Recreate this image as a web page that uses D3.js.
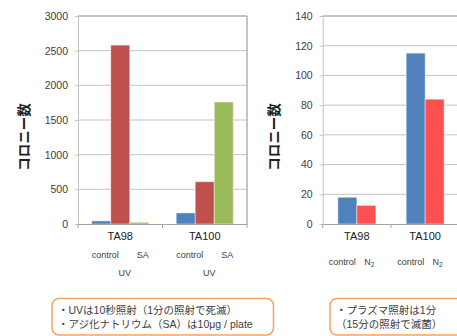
<!DOCTYPE html>
<html>
<head>
<meta charset="utf-8">
<script src="https://cdn.jsdelivr.net/npm/d3@7"></script>
<style>
  body { margin: 0; background: #fff; }
  svg { display: block; font-family: "Liberation Sans", Arial, "Noto Sans CJK JP", sans-serif; }
</style>
</head>
<body>
<svg width="457" height="336"></svg>
<script>
// data
var strains = ["TA98", "TA100"];

var uvSeries = ["control", "UV", "SA"];
var uvValues = [[45, 2580, 25], [160, 610, 1760]];
var uvColors = ["#4F81BD", "#C0504D", "#9BBB59"];
var uvTicks = [0, 500, 1000, 1500, 2000, 2500, 3000];

var plSeries = ["control", "N2"];
var plValues = [[18, 12.5], [115, 84]];
var plColors = ["#4F81BD", "#FF5050"];
var plTicks = [0, 20, 40, 60, 80, 100, 120, 140];

var yTitle = "コロニー数";
var noteLeft = ["・UVは10秒照射（1分の照射で死滅）", "・アジ化ナトリウム（SA）は10μg / plate"];
var noteRight = ["・プラズマ照射は1分", "（15分の照射で滅菌）"];

var svg = d3.select("svg");
var CJK = "'Noto Sans CJK JP', sans-serif";

function drawChart(opt) {
  var x = d3.scaleBand().domain(strains).range([opt.x0, opt.x1]);
  var xs = d3.scaleBand().domain(opt.series).range([0, x.bandwidth()]).paddingOuter(opt.pad);
  var y = d3.scaleLinear().domain([0, opt.max]).range([224, 16]);
  var g = svg.append("g");

  // gridlines
  g.selectAll(".grid").data(opt.ticks.slice(1, -1)).enter().append("line")
    .attr("x1", opt.x0).attr("x2", opt.x1)
    .attr("y1", function(d) { return y(d); }).attr("y2", function(d) { return y(d); })
    .attr("stroke", "#c4c4c4").attr("stroke-width", 1);

  // frame top/right
  g.append("line").attr("x1", opt.x0).attr("x2", opt.x1).attr("y1", y(opt.max)).attr("y2", y(opt.max))
    .attr("stroke", "#8a8a8a");
  g.append("line").attr("x1", opt.x1).attr("x2", opt.x1).attr("y1", y(opt.max)).attr("y2", y(0))
    .attr("stroke", "#8a8a8a");

  // bars
  var groups = g.selectAll(".strain").data(opt.values).enter().append("g")
    .attr("transform", function(d, i) { return "translate(" + x(strains[i]) + ",0)"; });
  groups.selectAll("rect").data(function(d) { return d; }).enter().append("rect")
    .attr("x", function(d, i) { return xs(opt.series[i]); })
    .attr("width", xs.bandwidth())
    .attr("y", function(d) { return y(d); })
    .attr("height", function(d) { return y(0) - y(d); })
    .attr("fill", function(d, i) { return opt.colors[i]; })
    .attr("stroke", "rgba(255,255,255,0.45)").attr("stroke-width", 1);

  // y axis
  var ya = g.append("g").attr("transform", "translate(" + opt.x0 + ",0)")
    .call(d3.axisLeft(y).tickValues(opt.ticks).tickFormat(d3.format("d")).tickSize(3).tickPadding(7));
  ya.select(".domain").attr("stroke", "#c4c4c4");
  ya.selectAll(".tick line").attr("stroke", "#c4c4c4");
  ya.selectAll("text").attr("font-size", "10.5px").attr("fill", "#404040")
    .attr("font-family", "'Liberation Sans', Arial, sans-serif");

  // x axis
  var xa = g.append("g").attr("transform", "translate(0," + y(0) + ")")
    .call(d3.axisBottom(x).tickSize(0).tickPadding(8));
  xa.select(".domain").attr("stroke", "#a6a6a6");
  xa.selectAll("text").attr("font-size", "11px").attr("fill", "#222")
    .attr("font-family", "'Liberation Sans', Arial, sans-serif");
  g.selectAll(".xtick").data(d3.range(strains.length + 1)).enter().append("line")
    .attr("x1", function(i) { return opt.x0 + i * x.step(); })
    .attr("x2", function(i) { return opt.x0 + i * x.step(); })
    .attr("y1", y(0)).attr("y2", y(0) + 4)
    .attr("stroke", "#a6a6a6");

  // sub labels
  strains.forEach(function(s) {
    opt.subLabels.forEach(function(lb) {
      var cx = x(s) + xs(lb.series) + xs.bandwidth() / 2 + lb.dx;
      var t = g.append("text").attr("x", cx).attr("y", lb.y)
        .attr("text-anchor", "middle").attr("font-size", "9px").attr("fill", "#404040");
      if (lb.text === "N2") {
        t.append("tspan").text("N");
        t.append("tspan").attr("font-size", "6.5px").attr("dy", 2).text("2");
      } else {
        t.text(lb.text);
      }
    });
  });

  // y title
  g.append("text")
    .attr("transform", "translate(" + opt.titleX + ",137) rotate(-90)")
    .attr("text-anchor", "middle").attr("dominant-baseline", "central")
    .attr("font-family", CJK).attr("font-size", "13.5px").attr("font-weight", "bold")
    .attr("fill", "#222").text(yTitle);
}

drawChart({
  x0: 78, x1: 247, max: 3000, ticks: uvTicks, series: uvSeries, values: uvValues,
  colors: uvColors, pad: 0.72, titleX: 23,
  subLabels: [
    { series: "control", text: "control", dx: 4, y: 258 },
    { series: "SA", text: "SA", dx: 3.5, y: 258 },
    { series: "UV", text: "UV", dx: 4.5, y: 276 }
  ]
});

drawChart({
  x0: 322.7, x1: 459.3, max: 140, ticks: plTicks, series: plSeries, values: plValues,
  colors: plColors, pad: 0.8, titleX: 273,
  subLabels: [
    { series: "control", text: "control", dx: -5, y: 264.5 },
    { series: "N2", text: "N2", dx: 3, y: 264.5 }
  ]
});

// note boxes
function drawNote(x, w, lines) {
  svg.append("rect").attr("x", x).attr("y", 298.5).attr("width", w).attr("height", 36.5)
    .attr("rx", 7).attr("fill", "#fff").attr("stroke", "#F7A262").attr("stroke-width", 1.5);
  svg.selectAll(null).data(lines).enter().append("text")
    .attr("x", x + 6).attr("y", function(d, i) { return 314 + i * 14; })
    .attr("font-family", "'Liberation Sans', Arial, 'Noto Sans CJK JP', sans-serif")
    .attr("font-size", "10.5px").attr("fill", "#404040")
    .text(function(d) { return d; });
}
drawNote(52, 221.5, noteLeft);
drawNote(330, 140, noteRight);
</script>
</body>
</html>
